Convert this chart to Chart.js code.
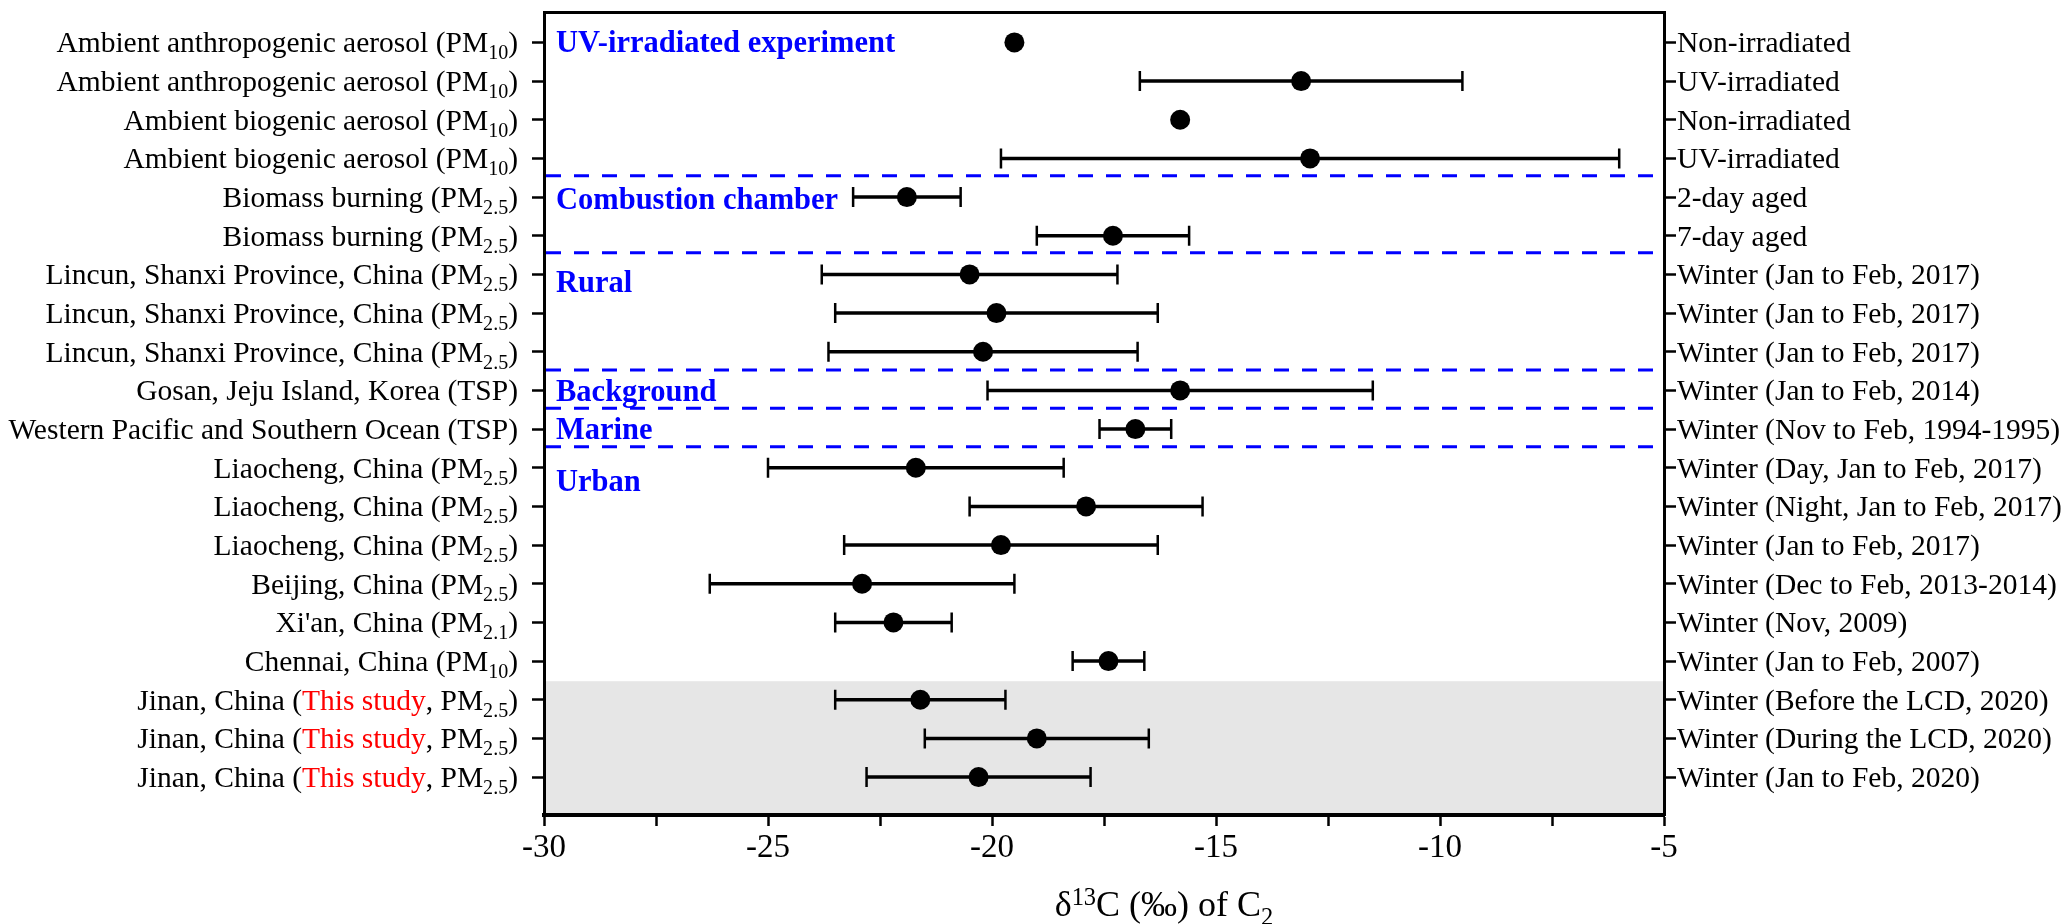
<!DOCTYPE html>
<html>
<head>
<meta charset="utf-8">
<script src="https://cdn.jsdelivr.net/npm/chart.js@4.4.1/dist/chart.umd.min.js"></script>
<style>
  html, body { margin: 0; padding: 0; background: #fff; }
  #wrap { width: 2067px; height: 924px; }
</style>
</head>
<body>
<div id="wrap"><canvas id="c2Chart"></canvas></div>
<script>
const rowPos = [1, 2, 3, 4, 5, 6, 7, 8, 9, 10, 11, 12, 13, 14, 15, 16, 17, 18, 19, 20];

// _{..} = subscript, [..] = red text
const leftLabels = [
    'Ambient anthropogenic aerosol (PM_{10})',
    'Ambient anthropogenic aerosol (PM_{10})',
    'Ambient biogenic aerosol (PM_{10})',
    'Ambient biogenic aerosol (PM_{10})',
    'Biomass burning (PM_{2.5})',
    'Biomass burning (PM_{2.5})',
    'Lincun, Shanxi Province, China (PM_{2.5})',
    'Lincun, Shanxi Province, China (PM_{2.5})',
    'Lincun, Shanxi Province, China (PM_{2.5})',
    'Gosan, Jeju Island, Korea (TSP)',
    'Western Pacific and Southern Ocean (TSP)',
    'Liaocheng, China (PM_{2.5})',
    'Liaocheng, China (PM_{2.5})',
    'Liaocheng, China (PM_{2.5})',
    'Beijing, China (PM_{2.5})',
    "Xi'an, China (PM_{2.1})",
    'Chennai, China (PM_{10})',
    'Jinan, China ([This study], PM_{2.5})',
    'Jinan, China ([This study], PM_{2.5})',
    'Jinan, China ([This study], PM_{2.5})'
];

const rightLabels = [
    'Non-irradiated',
    'UV-irradiated',
    'Non-irradiated',
    'UV-irradiated',
    '2-day aged',
    '7-day aged',
    'Winter (Jan to Feb, 2017)',
    'Winter (Jan to Feb, 2017)',
    'Winter (Jan to Feb, 2017)',
    'Winter (Jan to Feb, 2014)',
    'Winter (Nov to Feb, 1994-1995)',
    'Winter (Day, Jan to Feb, 2017)',
    'Winter (Night, Jan to Feb, 2017)',
    'Winter (Jan to Feb, 2017)',
    'Winter (Dec to Feb, 2013-2014)',
    'Winter (Nov, 2009)',
    'Winter (Jan to Feb, 2007)',
    'Winter (Before the LCD, 2020)',
    'Winter (During the LCD, 2020)',
    'Winter (Jan to Feb, 2020)'
];

const means = [-19.5, -13.1, -15.8, -12.9, -21.9, -17.3, -20.5, -19.9, -20.2, -15.8,
               -16.8, -21.7, -17.9, -19.8, -22.9, -22.2, -17.4, -21.6, -19.0, -20.3];
const errors = [null, 3.6, null, 6.9, 1.2, 1.7, 3.3, 3.6, 3.45, 4.3,
                0.8, 3.3, 2.6, 3.5, 3.4, 1.3, 0.8, 1.9, 2.5, 2.5];

const groupNames = ['UV-irradiated experiment', 'Combustion chamber', 'Rural', 'Background', 'Marine', 'Urban'];
const groupRows = [1, 5.05, 7.19, 10.02, 11, 12.34];
const dividers = [4.45, 6.44, 9.47, 10.46, 11.46];
const shadeFrom = 17.52;

const xTickLabels = [-30, -25, -20, -15, -10, -5];
const xTitle = '\u03b4^{13}C (\u2030) of C_{2}';

const SERIF = '"Liberation Serif", "Times New Roman", serif';

function parseRich(str) {
    const parts = [];
    const re = /_\{([^}]*)\}|\^\{([^}]*)\}|\[([^\]]*)\]|([^_^\[]+)/g;
    let m;
    while ((m = re.exec(str)) !== null) {
        if (m[1] !== undefined) parts.push({ text: m[1], shift: 'sub' });
        else if (m[2] !== undefined) parts.push({ text: m[2], shift: 'sup' });
        else if (m[3] !== undefined) parts.push({ text: m[3], color: '#ff0000' });
        else parts.push({ text: m[4] });
    }
    return parts;
}

function drawRich(ctx, str, x, baseline, size, align, weight, color) {
    const parts = parseRich(str);
    const fontFor = p => (weight || 'normal') + ' ' + (p.shift ? size * 0.68 : size) + 'px ' + SERIF;
    let total = 0;
    parts.forEach(p => {
        ctx.font = fontFor(p);
        p.w = ctx.measureText(p.text).width;
        total += p.w;
    });
    let cx = x;
    if (align === 'right') cx = x - total;
    if (align === 'center') cx = x - total / 2;
    ctx.textAlign = 'left';
    ctx.textBaseline = 'alphabetic';
    parts.forEach(p => {
        ctx.font = fontFor(p);
        ctx.fillStyle = p.color || color || '#000';
        let dy = 0;
        if (p.shift === 'sub') dy = size * 0.24;
        if (p.shift === 'sup') dy = -size * 0.31;
        ctx.fillText(p.text, cx, baseline + dy);
        cx += p.w;
    });
}

const decorPlugin = {
    id: 'decor',
    beforeDraw(chart) {
        const { ctx, chartArea, scales } = chart;
        const top = scales.y.getPixelForValue(shadeFrom);
        ctx.save();
        ctx.fillStyle = '#e6e6e6';
        ctx.fillRect(chartArea.left, top, chartArea.right - chartArea.left, chartArea.bottom - top);
        ctx.restore();
    },
    beforeDatasetsDraw(chart) {
        const { ctx, chartArea, scales } = chart;
        ctx.save();
        ctx.strokeStyle = '#0000ff';
        ctx.lineWidth = 3;
        ctx.setLineDash([15, 13]);
        dividers.forEach(v => {
            const y = scales.y.getPixelForValue(v);
            ctx.beginPath();
            ctx.moveTo(chartArea.left + 2, y);
            ctx.lineTo(chartArea.right - 2, y);
            ctx.stroke();
        });
        ctx.restore();
    },
    afterDraw(chart) {
        const { ctx, chartArea, scales } = chart;
        ctx.save();
        rowPos.forEach((v, i) => {
            const y = scales.y.getPixelForValue(v);
            drawRich(ctx, leftLabels[i], chartArea.left - 26, y + 9.8, 29.5, 'right');
            drawRich(ctx, rightLabels[i], chartArea.right + 13, y + 9.8, 29.5, 'left');
        });
        groupNames.forEach((name, i) => {
            const y = scales.y.getPixelForValue(groupRows[i]);
            drawRich(ctx, name, chartArea.left + 12, y + 9.9, 30.5, 'left', 'bold', '#0000ff');
        });
        drawRich(ctx, xTitle, 1164, 916, 36, 'center');
        ctx.restore();
    }
};

const errorData = [];
means.forEach((m, i) => {
    if (errors[i] === null) return;
    errorData.push({ x: m - errors[i], y: rowPos[i] });
    errorData.push({ x: m + errors[i], y: rowPos[i] });
    errorData.push({ x: null, y: null });
});

const yScaleBase = {
    type: 'linear',
    reverse: true,
    min: 0.227,
    max: 20.98,
    afterBuildTicks: s => { s.ticks = rowPos.map(v => ({ value: v })); },
    ticks: { autoSkip: false, callback: () => '' },
    grid: { drawOnChartArea: false, tickLength: 12, tickWidth: 2.5, tickColor: '#000' },
    border: { color: '#000', width: 3 }
};

new Chart(document.getElementById('c2Chart'), {
    type: 'scatter',
    data: {
        datasets: [
            {
                label: 'Mean',
                data: means.map((m, i) => ({ x: m, y: rowPos[i] })),
                pointRadius: 10,
                pointHoverRadius: 10,
                backgroundColor: '#000',
                borderWidth: 0
            },
            {
                label: 'Error',
                data: errorData,
                showLine: true,
                spanGaps: false,
                borderColor: '#000',
                borderWidth: 3.5,
                pointStyle: 'line',
                rotation: 90,
                pointRadius: 10,
                pointHoverRadius: 10,
                pointBorderColor: '#000',
                pointBorderWidth: 2.5
            }
        ]
    },
    options: {
        responsive: true,
        maintainAspectRatio: false,
        animation: false,
        layout: { padding: 0 },
        plugins: {
            legend: { display: false },
            tooltip: { enabled: false }
        },
        scales: {
            x: {
                type: 'linear',
                position: 'bottom',
                min: -30,
                max: -5,
                ticks: {
                    stepSize: 2.5,
                    autoSkip: false,
                    maxRotation: 0,
                    padding: 3,
                    color: '#000',
                    font: { family: SERIF, size: 33 },
                    callback: v => xTickLabels.includes(v) ? String(v) : ''
                },
                grid: { drawOnChartArea: false, tickLength: 11, tickWidth: 2.5, tickColor: '#000' },
                border: { color: '#000', width: 4 },
                afterFit: s => { s.height = 109; }
            },
            x2: {
                type: 'linear',
                position: 'top',
                min: -30,
                max: -5,
                ticks: { display: false },
                grid: { drawOnChartArea: false, drawTicks: false },
                border: { color: '#000', width: 3 },
                afterFit: s => { s.height = 10; }
            },
            y: Object.assign({}, yScaleBase, {
                position: 'left',
                afterFit: s => { s.width = 544; }
            }),
            y2: Object.assign({}, yScaleBase, {
                position: 'right',
                afterFit: s => { s.width = 403; }
            })
        }
    },
    plugins: [decorPlugin]
});
</script>
</body>
</html>
